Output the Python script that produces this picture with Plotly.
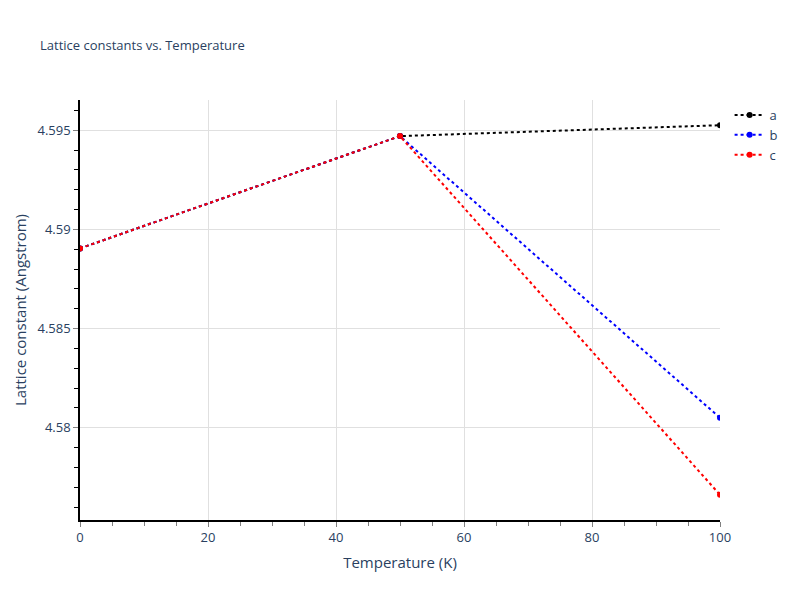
import plotly.graph_objects as go

temperature = [0, 50, 100]
a_vals = [4.58904, 4.59470, 4.59525]
b_vals = [4.58904, 4.59470, 4.58050]
c_vals = [4.58904, 4.59470, 4.57662]
series_names = ["a", "b", "c"]
series_colors = ["black", "blue", "red"]

fig = go.Figure()
for name, vals, col in zip(series_names, [a_vals, b_vals, c_vals], series_colors):
    fig.add_trace(go.Scatter(
        x=temperature, y=vals, name=name, mode="lines+markers",
        line=dict(color=col, dash="dot", width=2),
        marker=dict(color=col, size=6),
    ))

# page has an 8px body margin; compensate so the figure lines up with an 800x600 canvas
W, H = 792, 592
fig.update_layout(
    template="plotly_white",
    width=W, height=H,
    margin=dict(l=72, r=80, t=92, b=80, autoexpand=False),
    title=dict(text="Lattice constants vs. Temperature", font=dict(size=13),
               x=32 / W, xanchor="left", y=1 - 37 / H, yanchor="middle"),
    legend=dict(font=dict(size=13), x=1.015),
)
fig.add_annotation(
    text="Lattice constant (Angstrom)", textangle=-90, showarrow=False,
    xref="paper", yref="paper", x=(12 - 72) / 640, y=0.5,
    xanchor="center", yanchor="middle", borderpad=0,
    font=dict(size=15, color="#2a3f5f"),
)
fig.update_xaxes(
    title=dict(text="Temperature (K)", font=dict(size=15), standoff=12),
    range=[0, 100], dtick=20, automargin=False,
    showline=True, linecolor="black", linewidth=1.5,
    ticks="outside", tickcolor="gray", ticklen=5,
    minor=dict(ticks="outside", dtick=5, ticklen=4, tickcolor="gray", showgrid=False),
    zeroline=False, gridcolor="#e0e0e0", gridwidth=1.2, tickfont=dict(size=13),
)
fig.update_yaxes(
    range=[4.57535, 4.59652], dtick=0.005, tick0=4.58, automargin=False,
    showline=True, linecolor="black", linewidth=1.5,
    ticks="outside", tickcolor="gray", ticklen=5,
    minor=dict(ticks="outside", dtick=0.001, ticklen=4, tickcolor="black", showgrid=False),
    zeroline=False, gridcolor="#e0e0e0", gridwidth=1.2, tickfont=dict(size=13),
)

fig.write_html("out.html")
